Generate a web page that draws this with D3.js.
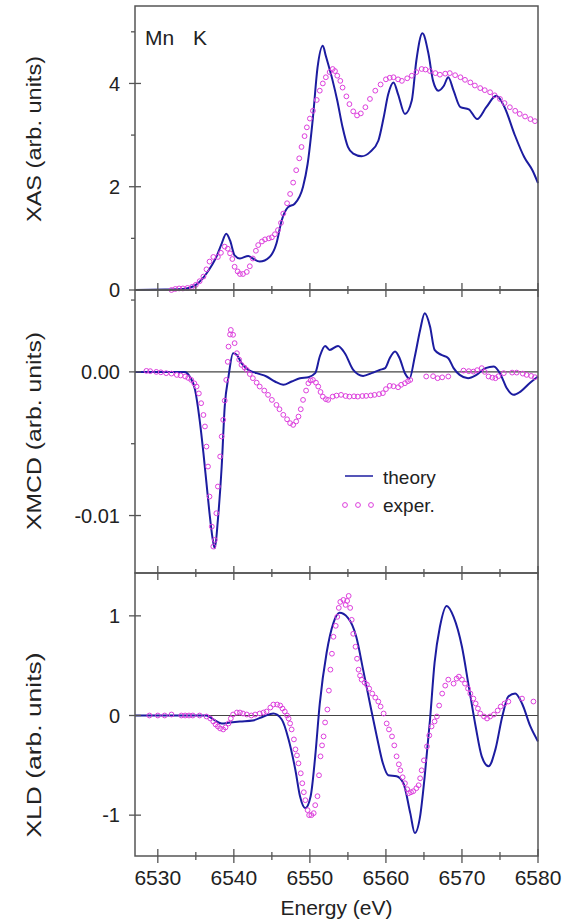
<!DOCTYPE html>
<html>
<head>
<meta charset="utf-8">
<script src="https://cdn.jsdelivr.net/npm/d3@7"></script>
<style>
  body { margin: 0; background: #fff; }
  svg { display: block; font-family: "Liberation Sans", Arial, sans-serif; }
</style>
</head>
<body>
<div id="chart"></div>
<script>
// ===== DATA (energy in eV, value) =====
const xasTheory = [
  [6527, 0.0], [6531, 0.01], [6533.3, 0.02], [6535, 0.1], [6536.4, 0.32], [6537.7, 0.64],
  [6538.4, 0.9], [6539, 1.09], [6539.5, 0.96], [6540.1, 0.67], [6540.8, 0.61], [6541.9, 0.66],
  [6542.5, 0.61], [6543.4, 0.55], [6544.7, 0.64], [6545.6, 0.9], [6546.3, 1.35], [6547.1, 1.6],
  [6548, 1.67], [6549.1, 2.0], [6549.7, 2.44], [6550.4, 3.34], [6551, 4.3], [6551.7, 4.73],
  [6552.1, 4.53], [6553, 4.05], [6553.6, 3.67], [6554.3, 3.15], [6555, 2.77], [6555.7, 2.64],
  [6556.8, 2.59], [6557.9, 2.67], [6559, 2.89], [6559.7, 3.34], [6560.3, 3.79], [6561, 4.02],
  [6561.6, 3.79], [6562.5, 3.41], [6563.4, 3.67], [6564, 4.44], [6564.8, 4.97], [6565.6, 4.57],
  [6566.2, 4.05], [6566.9, 3.86], [6567.6, 3.95], [6568.2, 4.12], [6568.9, 3.86], [6569.8, 3.54],
  [6570.9, 3.5], [6572, 3.31], [6573.2, 3.54], [6574.5, 3.76], [6575.6, 3.54], [6576.9, 3.02],
  [6578.2, 2.57], [6579.3, 2.31], [6580, 2.07]
];
const xasExper = [
  [6531.8, 0.0], [6532.3, 0.02], [6532.8, 0.03], [6533.3, 0.03], [6533.9, 0.04], [6534.5, 0.06],
  [6535, 0.1], [6535.5, 0.17], [6536, 0.26], [6536.4, 0.4], [6536.8, 0.55], [6537.3, 0.64],
  [6537.9, 0.64], [6538.3, 0.72], [6538.8, 0.84], [6539.2, 0.8], [6539.5, 0.71], [6539.8, 0.6],
  [6540.1, 0.45], [6540.5, 0.36], [6540.8, 0.31], [6541.2, 0.31], [6541.7, 0.35], [6542.1, 0.46],
  [6542.5, 0.61], [6542.9, 0.76], [6543.2, 0.87], [6543.7, 0.94], [6544.1, 0.98], [6544.6, 1.0],
  [6545, 1.02], [6545.4, 1.08], [6545.8, 1.16], [6546.2, 1.3], [6546.5, 1.48], [6547, 1.68],
  [6547.4, 1.86], [6547.8, 2.08], [6548.2, 2.32], [6548.6, 2.55], [6548.9, 2.77], [6549.3, 2.98],
  [6549.6, 3.15], [6550, 3.32], [6550.4, 3.47], [6550.9, 3.68], [6551.3, 3.86], [6551.7, 4.0],
  [6552.1, 4.12], [6552.6, 4.22], [6553, 4.28], [6553.3, 4.24], [6553.6, 4.15], [6554, 4.05],
  [6554.3, 3.92], [6554.8, 3.75], [6555.2, 3.6], [6555.7, 3.46], [6556.2, 3.38], [6556.7, 3.42],
  [6557.3, 3.54], [6557.9, 3.7], [6558.6, 3.86], [6559.3, 3.98], [6560, 4.08], [6560.5, 4.11],
  [6561, 4.12], [6561.6, 4.08], [6562.1, 4.05], [6562.8, 4.1], [6563.4, 4.15], [6564, 4.22],
  [6564.7, 4.28], [6565.2, 4.27], [6565.8, 4.24], [6566.5, 4.2], [6567.1, 4.17], [6567.8, 4.19],
  [6568.4, 4.2], [6569.1, 4.16], [6569.8, 4.12], [6570.4, 4.07], [6571.1, 4.02], [6571.7, 3.96],
  [6572.4, 3.91], [6573, 3.87], [6573.7, 3.83], [6574.3, 3.77], [6575, 3.7], [6575.6, 3.62],
  [6576.3, 3.54], [6577, 3.47], [6577.6, 3.41], [6578.3, 3.36], [6579, 3.31], [6579.6, 3.27]
];

// XMCD values in units of 1e-3
const xmcdTheory = [
  [6527, 0], [6533.5, 0], [6534.2, -0.32], [6534.9, -1.25], [6535.5, -3.34], [6536, -5.66],
  [6536.4, -7.75], [6536.8, -9.84], [6537.3, -11.9], [6537.5, -12.27], [6537.9, -10.3],
  [6538.4, -6.59], [6538.8, -2.41], [6539.3, -0.32], [6539.9, 1.3], [6540.4, 1.18], [6541, 0.6],
  [6541.9, 0.14], [6543, -0.09], [6544.3, -0.32], [6545.4, -0.67], [6546.5, -0.9], [6547.6, -0.67],
  [6548.7, -0.44], [6549.8, -0.37], [6550.7, -0.09], [6551.3, 1.07], [6552, 1.81], [6552.6, 1.53],
  [6553.7, 1.81], [6554.6, 1.3], [6555.7, 0.14], [6557, -0.28], [6558.1, -0.09], [6559.2, 0.14],
  [6559.9, 0.26], [6560.5, 0.95], [6561.2, 1.42], [6561.8, 0.95], [6562.5, -0.09], [6563.1, -0.46],
  [6563.8, 1.07], [6564.5, 2.92], [6565.1, 4.08], [6565.8, 3.16], [6566.4, 1.53], [6567.3, 1.18],
  [6568.2, 0.95], [6568.9, 0.26], [6569.7, -0.21], [6570.8, -0.44], [6571.9, -0.21], [6573.1, 0.26],
  [6574.2, 0.37], [6575.1, -0.21], [6575.9, -1.14], [6576.8, -1.6], [6577.7, -1.37], [6579, -0.74],
  [6580, -0.32]
];
const xmcdExper = [
  [6528.5, 0.07], [6529, 0.05], [6529.8, 0], [6530.4, -0.03], [6531.1, -0.09], [6531.8, -0.12],
  [6532.5, -0.21], [6533, -0.25], [6533.6, -0.32], [6534, -0.42], [6534.4, -0.56], [6534.8, -0.8],
  [6535.1, -1.02], [6535.4, -1.5], [6535.7, -2.18], [6536, -3.0], [6536.2, -3.8], [6536.4, -5.2],
  [6536.6, -6.59], [6536.8, -8.68], [6537.1, -10.77], [6537.3, -12.16], [6537.5, -11.7],
  [6537.7, -9.84], [6537.9, -7.98], [6538.2, -5.89], [6538.4, -4.5], [6538.6, -3.34], [6538.8, -2.0],
  [6539, -0.56], [6539.2, 0.7], [6539.3, 1.76], [6539.5, 2.6], [6539.6, 2.92], [6539.9, 2.58],
  [6540.1, 2.0], [6540.4, 1.3], [6540.7, 0.85], [6541, 0.49], [6541.4, 0.3], [6541.7, 0.14],
  [6542.1, -0.15], [6542.5, -0.44], [6543, -0.75], [6543.4, -1.02], [6544, -1.3], [6544.5, -1.6],
  [6545, -1.95], [6545.6, -2.3], [6546, -2.6], [6546.5, -2.99], [6547, -3.3], [6547.4, -3.57],
  [6547.8, -3.69], [6548.2, -3.45], [6548.5, -3.11], [6548.8, -2.6], [6549.1, -1.95], [6549.5, -1.3],
  [6549.8, -0.79], [6550.1, -0.6], [6550.4, -0.56], [6550.8, -0.75], [6551.1, -1.02], [6551.4, -1.4],
  [6551.7, -1.72], [6552.1, -1.9], [6552.4, -1.95], [6553, -1.72], [6553.5, -1.65], [6554.1, -1.6],
  [6554.7, -1.68], [6555.2, -1.72], [6555.8, -1.7], [6556.3, -1.72], [6556.9, -1.68], [6557.4, -1.67],
  [6558, -1.64], [6558.5, -1.6], [6559.1, -1.55], [6559.6, -1.48], [6560, -1.2], [6560.5, -0.97],
  [6561, -1.0], [6561.6, -1.07], [6562, -0.9], [6562.5, -0.79], [6562.9, -0.65], [6563.2, -0.56],
  [6565.3, -0.32], [6566.2, -0.3], [6566.8, -0.44], [6567.4, -0.38], [6568.2, -0.32],
  [6570.2, 0.09], [6570.9, 0.05], [6571.5, 0.02], [6572, 0.12], [6572.6, 0.26], [6573, 0.0],
  [6573.5, -0.32], [6574, -0.4], [6574.4, -0.44], [6574.8, -0.3], [6575.5, -0.09],
  [6576.6, -0.05], [6577.2, -0.05], [6578, -0.12], [6578.5, -0.21], [6579.1, -0.28], [6579.6, -0.37]
];

const xldTheory = [
  [6527, 0], [6536.4, 0], [6537.3, -0.04], [6538.4, -0.08], [6539.5, -0.07], [6540.8, -0.06],
  [6542.5, -0.05], [6543.9, -0.01], [6545.2, 0.02], [6546.3, -0.04], [6547.2, -0.24], [6548.1, -0.55],
  [6548.7, -0.81], [6549.4, -0.93], [6550.1, -0.81], [6550.7, -0.41], [6551.3, 0.12], [6552.2, 0.63],
  [6553.1, 0.93], [6553.9, 1.03], [6555, 0.98], [6556.1, 0.79], [6557, 0.46], [6557.9, 0.12],
  [6558.8, -0.21], [6559.6, -0.48], [6560.3, -0.6], [6561.4, -0.61], [6562.3, -0.68], [6563.2, -0.98],
  [6563.8, -1.18], [6564.5, -1.01], [6565.1, -0.61], [6565.8, -0.04], [6566.4, 0.53], [6567.1, 0.89],
  [6568, 1.1], [6568.9, 0.99], [6570, 0.69], [6570.9, 0.29], [6571.8, -0.11], [6572.6, -0.41],
  [6573.5, -0.51], [6574.4, -0.34], [6575.3, -0.01], [6576.1, 0.19], [6577, 0.22], [6577.9, 0.12],
  [6579, -0.11], [6580, -0.26]
];
const xldExper = [
  [6528.9, 0], [6530, 0], [6530.9, 0], [6531.8, 0.01], [6533.1, 0], [6533.6, 0], [6534.1, 0],
  [6534.6, 0], [6535.5, 0], [6536.4, -0.01], [6536.9, -0.03], [6537.3, -0.06], [6537.6, -0.09],
  [6537.9, -0.11], [6538.2, -0.13], [6538.6, -0.14], [6538.9, -0.12], [6539.3, -0.08], [6539.6, -0.03],
  [6539.9, 0.01], [6540.4, 0.03], [6540.8, 0.03], [6541.2, 0.02], [6541.7, 0.01], [6542.3, 0],
  [6542.8, 0.01], [6543.4, 0.02], [6543.9, 0.03], [6544.3, 0.04], [6544.8, 0.08], [6545.2, 0.11],
  [6545.7, 0.11], [6546.1, 0.1], [6546.4, 0.07], [6546.7, 0.04], [6547, 0.0], [6547.2, -0.03],
  [6547.4, -0.08], [6547.6, -0.14], [6547.9, -0.24], [6548.1, -0.34], [6548.3, -0.4], [6548.5, -0.48],
  [6548.8, -0.58], [6549, -0.68], [6549.2, -0.77], [6549.4, -0.85], [6549.7, -0.95], [6549.9, -1.0],
  [6550.2, -1.0], [6550.5, -0.98], [6550.7, -0.9], [6551, -0.81], [6551.2, -0.6], [6551.4, -0.41],
  [6551.6, -0.3], [6551.8, -0.21], [6552, -0.07], [6552.3, 0.06], [6552.5, 0.25], [6552.7, 0.46],
  [6552.9, 0.62], [6553.1, 0.79], [6553.4, 0.9], [6553.6, 0.99], [6553.8, 1.08], [6554, 1.14],
  [6554.4, 1.16], [6554.7, 1.11], [6554.9, 1.15], [6555.1, 1.2], [6555.3, 1.08], [6555.5, 0.96],
  [6555.7, 0.82], [6556, 0.69], [6556.2, 0.57], [6556.4, 0.46], [6556.6, 0.4], [6556.8, 0.36],
  [6557.2, 0.33], [6557.5, 0.31], [6557.8, 0.27], [6558.2, 0.22], [6558.6, 0.18], [6559, 0.14],
  [6559.3, 0.09], [6559.7, 0.02], [6560.1, -0.08], [6560.4, -0.14], [6560.8, -0.21], [6561.1, -0.3],
  [6561.4, -0.41], [6561.7, -0.49], [6561.9, -0.55], [6562.2, -0.62], [6562.5, -0.68], [6562.8, -0.74],
  [6563, -0.78], [6563.3, -0.77], [6563.6, -0.76], [6564, -0.73], [6564.3, -0.7], [6564.5, -0.63],
  [6564.7, -0.55], [6565, -0.45], [6565.4, -0.31], [6565.7, -0.2], [6566, -0.11], [6566.4, -0.06],
  [6566.7, -0.01], [6567, 0.1], [6567.4, 0.22], [6567.8, 0.3], [6568.2, 0.36], [6568.9, 0.32],
  [6569.3, 0.37], [6569.6, 0.39], [6570, 0.36], [6570.4, 0.32], [6570.8, 0.27], [6571.1, 0.22],
  [6571.5, 0.17], [6571.8, 0.12], [6572.1, 0.07], [6572.4, 0.02], [6572.9, -0.01], [6573.3, -0.03],
  [6573.7, -0.01], [6574.2, 0.01], [6574.7, 0.05], [6575.1, 0.09], [6575.6, 0.12], [6576.1, 0.14],
  [6577.9, 0.17], [6579.4, 0.14]
];

const xTicks = [6530, 6540, 6550, 6560, 6570, 6580];
const xMinorTicks = [6535, 6545, 6555, 6565, 6575];

// ===== LAYOUT =====
const width = 569;
const height = 924;
const left = 135;
const right = 538;

const panels = [
  {
    top: 6, bottom: 290, domain: [0, 5.5],
    theory: xasTheory, exper: xasExper,
    ticks: [0, 2, 4], minor: [1, 3, 5], fmt: d => d,
    label: "XAS (arb. units)", labelY: 139, labelLen: 166, zeroLine: false
  },
  {
    top: 290, bottom: 573, domain: [-14, 5.7],
    theory: xmcdTheory, exper: xmcdExper,
    ticks: [0, -10], minor: [5, -5], fmt: d => d === 0 ? "0.00" : "-0.01",
    label: "XMCD (arb. units)", labelY: 431, labelLen: 198, zeroLine: true
  },
  {
    top: 573, bottom: 856, domain: [-1.41, 1.43],
    theory: xldTheory, exper: xldExper,
    ticks: [1, 0, -1], minor: [], fmt: d => d,
    label: "XLD (arb. units)", labelY: 745, labelLen: 185, zeroLine: true
  }
];

const theoryColor = "#1c1ca0";
const experColor = "#dd3fdd";
const frameColor = "#555";

const svg = d3.select("#chart").append("svg")
  .attr("width", width)
  .attr("height", height);

const x = d3.scaleLinear().domain([6527, 6580]).range([left, right]);

panels.forEach((p, i) => {
  const y = d3.scaleLinear().domain(p.domain).range([p.bottom, p.top]);
  const g = svg.append("g");

  const clipId = "clip" + i;
  svg.append("clipPath").attr("id", clipId)
    .append("rect")
    .attr("x", left).attr("y", p.top - 2)
    .attr("width", right - left + 2).attr("height", p.bottom - p.top + 4);

  if (p.zeroLine) {
    g.append("line")
      .attr("x1", left).attr("x2", right)
      .attr("y1", y(0)).attr("y2", y(0))
      .attr("stroke", "#444").attr("stroke-width", 1.2);
  }

  // theory curve
  const line = d3.line()
    .x(d => x(d[0]))
    .y(d => y(d[1]))
    .curve(d3.curveMonotoneX);

  g.append("path")
    .datum(p.theory)
    .attr("clip-path", `url(#${clipId})`)
    .attr("d", line)
    .attr("fill", "none")
    .attr("stroke", theoryColor)
    .attr("stroke-width", 2);

  // experiment markers
  g.selectAll("circle.exp")
    .data(p.exper)
    .enter()
    .append("circle")
    .attr("class", "exp")
    .attr("cx", d => x(d[0]))
    .attr("cy", d => y(d[1]))
    .attr("r", 2.4)
    .attr("fill", "none")
    .attr("stroke", experColor)
    .attr("stroke-width", 1);

  // frame
  g.append("rect")
    .attr("x", left).attr("y", p.top)
    .attr("width", right - left).attr("height", p.bottom - p.top)
    .attr("fill", "none")
    .attr("stroke", frameColor)
    .attr("stroke-width", 1.5);

  // y ticks
  g.selectAll("line.ymaj")
    .data(p.ticks)
    .enter()
    .append("line")
    .attr("x1", left - 6).attr("x2", left + 6)
    .attr("y1", d => y(d)).attr("y2", d => y(d))
    .attr("stroke", frameColor).attr("stroke-width", 1.3);

  g.selectAll("line.ymin")
    .data(p.minor)
    .enter()
    .append("line")
    .attr("x1", left - 4).attr("x2", left)
    .attr("y1", d => y(d)).attr("y2", d => y(d))
    .attr("stroke", frameColor).attr("stroke-width", 1.3);

  g.selectAll("text.ylab")
    .data(p.ticks)
    .enter()
    .append("text")
    .attr("x", 120)
    .attr("y", d => y(d))
    .attr("dy", "0.36em")
    .attr("text-anchor", "end")
    .attr("font-size", 20)
    .attr("fill", "#222")
    .text(p.fmt);

  // y label
  svg.append("text")
    .attr("transform", `translate(41,${p.labelY}) rotate(-90)`)
    .attr("text-anchor", "middle")
    .attr("font-size", 20)
    .attr("fill", "#222")
    .attr("textLength", p.labelLen)
    .attr("lengthAdjust", "spacingAndGlyphs")
    .text(p.label);
});

// x ticks on every panel boundary
const boundaries = [290, 573, 856];
boundaries.forEach(by => {
  svg.selectAll(null)
    .data(xTicks)
    .enter()
    .append("line")
    .attr("x1", d => x(d)).attr("x2", d => x(d))
    .attr("y1", by - 7).attr("y2", by + 7)
    .attr("stroke", frameColor).attr("stroke-width", 1.3);

  svg.selectAll(null)
    .data(xMinorTicks)
    .enter()
    .append("line")
    .attr("x1", d => x(d)).attr("x2", d => x(d))
    .attr("y1", by - 4).attr("y2", by + 4)
    .attr("stroke", frameColor).attr("stroke-width", 1.3);
});

svg.selectAll("text.xlab")
  .data(xTicks)
  .enter()
  .append("text")
  .attr("x", d => x(d))
  .attr("y", 885)
  .attr("text-anchor", "middle")
  .attr("font-size", 21)
  .attr("fill", "#222")
  .text(d => d);

svg.append("text")
  .attr("x", (left + right) / 2)
  .attr("y", 915)
  .attr("text-anchor", "middle")
  .attr("font-size", 21)
  .attr("fill", "#222")
  .text("Energy (eV)");

// edge label
svg.append("text").attr("x", 145).attr("y", 45)
  .attr("font-size", 21).attr("fill", "#222").text("Mn");
svg.append("text").attr("x", 193).attr("y", 45)
  .attr("font-size", 21).attr("fill", "#222").text("K");

// legend
svg.append("line")
  .attr("x1", 345).attr("x2", 373)
  .attr("y1", 476).attr("y2", 476)
  .attr("stroke", theoryColor).attr("stroke-width", 1.5);
svg.append("text").attr("x", 383).attr("y", 484)
  .attr("font-size", 19).attr("fill", "#222").text("theory");

svg.selectAll("circle.leg")
  .data([345, 358, 371])
  .enter()
  .append("circle")
  .attr("cx", d => d).attr("cy", 505).attr("r", 2.4)
  .attr("fill", "none").attr("stroke", experColor).attr("stroke-width", 1);
svg.append("text").attr("x", 383).attr("y", 512)
  .attr("font-size", 19).attr("fill", "#222").text("exper.");
</script>
</body>
</html>
